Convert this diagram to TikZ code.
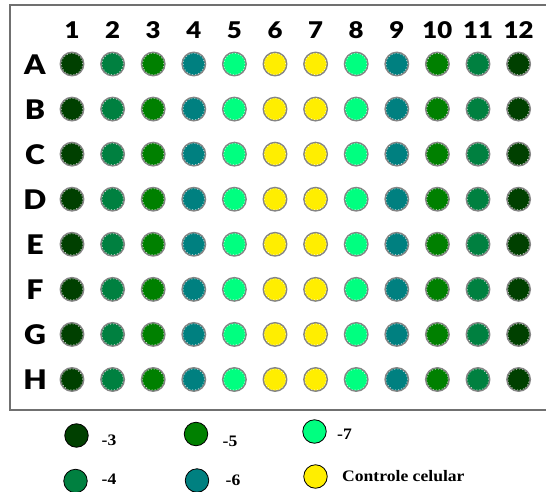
\documentclass[tikz,border=0pt]{standalone}
\usepackage{fontspec}
\setmainfont{Liberation Serif}
\newfontfamily\labfont{Lato Black}
\definecolor{cA}{HTML}{004000}
\definecolor{cB}{HTML}{008040}
\definecolor{cC}{HTML}{008000}
\definecolor{cD}{HTML}{008080}
\definecolor{cE}{HTML}{00FF80}
\definecolor{cF}{HTML}{FFEE00}
\definecolor{framegray}{HTML}{707070}
\definecolor{ringgray}{HTML}{858585}
\tikzset{
  well/.style={circle, draw=ringgray, line width=1.4pt, minimum size=23.5pt, inner sep=0pt},
  legdot/.style={circle, draw=black, line width=0.8pt, minimum size=23.5pt, inner sep=0pt},
  collab/.style={font=\labfont\fontsize{23}{26}\selectfont, inner sep=0pt},
  rowlab/.style={font=\labfont\fontsize{27}{30}\selectfont, inner sep=0pt},
  legtxt/.style={font=\bfseries\fontsize{16}{18}\selectfont, anchor=west, inner sep=0pt},
}
\newcommand{\wide}[1]{\scalebox{1.1}[1]{#1}}
\newcommand{\widelab}[1]{\scalebox{1.12}[1]{#1}}
\begin{document}
\begin{tikzpicture}[x=1pt,y=1pt]
\useasboundingbox (0,0) rectangle (546,-492);
\draw[framegray, line width=2pt] (546,-5) -- (10,-5) -- (10,-410) -- (546,-410);
% column labels
\foreach \c in {1,...,12} {
  \node[collab] (col\c) at ({72+(\c-1)*40.6},-30) {\widelab{\c}};
}
% rows
\foreach \r [count=\i from 0] in {A,B,C,D,E,F,G,H} {
  \node[rowlab] (row\r) at (35,{-64.5-\i*45.07}) {\widelab{\r}};
  \foreach \c/\col in {1/cA,2/cB,3/cC,4/cD,5/cE,6/cF,7/cF,8/cE,9/cD,10/cC,11/cB,12/cA} {
    \node[well, fill=\col] (\r\c) at ({72+(\c-1)*40.6},{-64-\i*45.07}) {};
    \draw[white, line width=0.4pt, dash pattern=on 1pt off 2pt] (\r\c.center) circle (10.6pt);
  }
}
% legend
\node[legdot, fill=cA] (l3) at (76.5,-435.5) {};
\node[legtxt] (t3) at (101.5,-440.5) {\wide{-3}};
\node[legdot, fill=cB] (l4) at (75.5,-481) {};
\node[legtxt] (t4) at (101.5,-479.5) {\wide{-4}};
\node[legdot, fill=cC] (l5) at (196,-434) {};
\node[legtxt] (t5) at (222.5,-441.5) {\wide{-5}};
\node[legdot, fill=cD] (l6) at (197,-480.5) {};
\node[legtxt] (t6) at (225.5,-480.5) {\wide{-6}};
\node[legdot, fill=cE] (l7) at (314.5,-431.5) {};
\node[legtxt] (t7) at (337,-434) {\wide{-7}};
\node[legdot, fill=cF] (lcc) at (315.5,-476.5) {};
\node[legtxt] (tcc) at (342,-476) {\wide{Controle celular}};
\end{tikzpicture}
\end{document}
